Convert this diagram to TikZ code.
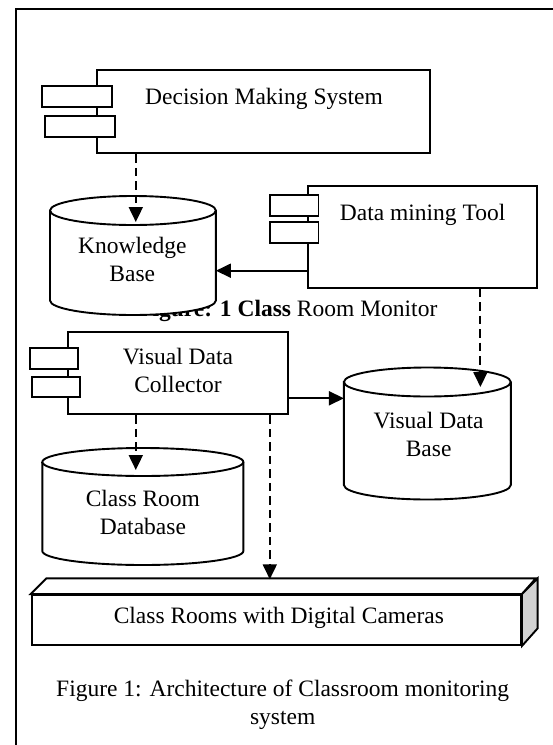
\documentclass[tikz,border=0pt]{standalone}
\usepackage{fontspec}
\setmainfont{Liberation Serif}
\usetikzlibrary{arrows.meta}
\begin{document}
\begin{tikzpicture}[x=1pt,y=-1pt, line width=1.9pt,
  comp/.style={draw, rectangle, inner sep=0pt, fill=white},
  lbl/.style={font=\fontsize{23.5}{28}\selectfont, inner sep=0pt, align=center},
  dep/.style={dash pattern=on 8.5pt off 5pt, -{Triangle[length=15pt,width=14pt]}},
  flow/.style={-{Triangle[length=15pt,width=14pt]}}
]
\useasboundingbox (0,0) rectangle (553,745);
% frame
\draw (560,9) -- (15.9,9) -- (15.9,752);

% Decision Making System
\node[comp, minimum width=332.2pt, minimum height=83.3pt] (dms) at (263.5,111.65) {};
\node[comp, minimum width=70.6pt, minimum height=20.7pt] (dmsA) at (76.9,96.35) {};
\node[comp, minimum width=70.2pt, minimum height=20.7pt] (dmsB) at (79.9,126.35) {};
\node[lbl, anchor=base] (dmsT) at (264,104) {Decision Making System};

% Data mining Tool
\node[comp, minimum width=228.9pt, minimum height=101.7pt] (dm) at (422.45,236.85) {};
\node[comp, minimum width=48.7pt, minimum height=20.7pt] (dmA) at (294.15,205.35) {};
\node[comp, minimum width=48.7pt, minimum height=21pt] (dmB) at (294.15,232.2) {};
\node[lbl, anchor=base] (dmT) at (422.6,220) {Data mining Tool};

% stray label
\node[lbl, anchor=base east] (fig1) at (438.3,316.5) {\textbf{Figure: 1 Class} Room Monitor};

% Knowledge Base cylinder
\path[draw, fill=white] (50,210.5) -- (50,300.5)
  arc[start angle=180,end angle=360,x radius=82.95pt,y radius=14.5pt]
  -- (215.9,210.5)
  arc[start angle=0,end angle=180,x radius=82.95pt,y radius=14.5pt] -- cycle;
\draw (50,210.5) arc[start angle=180,end angle=360,x radius=82.95pt,y radius=14.5pt];
\node[lbl, anchor=base] (kbT) at (132.3,281) {Knowledge\\Base};

% Visual Data Collector
\node[comp, minimum width=220.1pt, minimum height=82.6pt] (vdc) at (177.75,373) {};
\node[comp, minimum width=48.3pt, minimum height=20.7pt] (vdcA) at (54.15,358.65) {};
\node[comp, minimum width=48.7pt, minimum height=20pt] (vdcB) at (56.05,387.3) {};
\node[lbl, anchor=base] (vdcT) at (178,392.7) {Visual Data\\Collector};

% Visual Data Base cylinder
\path[draw, fill=white] (343.9,382) -- (343.9,485)
  arc[start angle=180,end angle=360,x radius=83.45pt,y radius=14.5pt]
  -- (510.8,382)
  arc[start angle=0,end angle=180,x radius=83.45pt,y radius=14.5pt] -- cycle;
\draw (343.9,382) arc[start angle=180,end angle=360,x radius=83.45pt,y radius=14.5pt];
\node[lbl, anchor=base] (vdbT) at (428.6,456.7) {Visual Data\\Base};

% Class Room Database cylinder
\path[draw, fill=white] (42.3,462) -- (42.3,551)
  arc[start angle=180,end angle=360,x radius=100.55pt,y radius=14pt]
  -- (243.4,462)
  arc[start angle=0,end angle=180,x radius=100.55pt,y radius=14pt] -- cycle;
\draw (42.3,462) arc[start angle=180,end angle=360,x radius=100.55pt,y radius=14pt];
\node[lbl, anchor=base] (crT) at (142.9,534) {Class Room\\Database};

% Class Rooms 3D box
\node[comp, minimum width=489.3pt, minimum height=50pt] (rooms) at (276.35,620) {};
\draw[fill=white] (rooms.north west) -- ++(15.7,-15.7) -- ++(489.3,0) -- (rooms.north east) -- cycle;
\draw[fill=gray!35] (rooms.north east) -- ++(15.7,-15.7) -- ++(0,50) -- (rooms.south east) -- cycle;
\node[lbl, anchor=base] (roomsT) at (278.9,623.3) {Class Rooms with Digital Cameras};

% connectors
\coordinate (kbIn) at (135.8,222);
\draw[dep] (dms.south -| kbIn) -- (kbIn);
\coordinate (kbR) at (215.9,270.7);
\draw[flow] (kbR -| dm.west) -- (kbR);
\coordinate (vdbIn) at (480.4,387);
\draw[dep] (dm.south -| vdbIn) -- (vdbIn);
\coordinate (vdbL) at (343.9,398.3);
\draw[flow] (vdbL -| vdc.east) -- (vdbL);
\coordinate (crIn) at (135.8,470);
\draw[dep] (vdc.south -| crIn) -- (crIn);
\coordinate (roomIn) at (269.8,579.3);
\draw[dep] (vdc.south -| roomIn) -- (roomIn);

% caption
\node[lbl, anchor=base] (cap) at (282.7,724.5) {Figure 1: Architecture of Classroom monitoring\\system};
\end{tikzpicture}
\end{document}
